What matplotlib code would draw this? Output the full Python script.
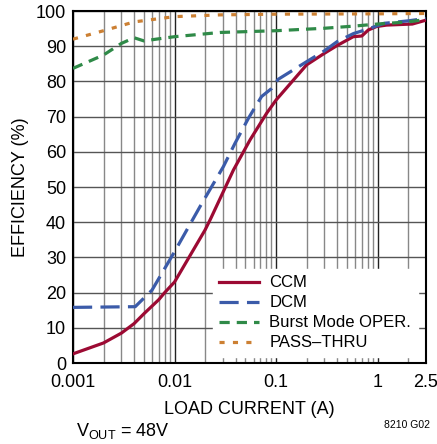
import matplotlib
matplotlib.use("Agg")
import matplotlib.pyplot as plt
from matplotlib.ticker import FixedLocator, NullFormatter

plt.rcParams['font.family'] = ['Liberation Sans Narrow', 'Liberation Sans', 'DejaVu Sans']

# efficiency curves
ccm_i = [0.001, 0.002, 0.003, 0.004, 0.005, 0.007, 0.008, 0.01, 0.02, 0.0227,
         0.038, 0.0555, 0.081, 0.1, 0.2, 0.3, 0.4, 0.576, 0.70, 0.81, 0.98,
         1.23, 2.2, 3.0]
ccm_eff = [2.6, 5.7, 8.5, 11.2, 14.0, 18.0, 20.0, 23.0, 37.8, 41.0,
           54.8, 63.4, 71.0, 74.7, 84.7, 88.0, 90.2, 92.7, 92.9, 94.6, 95.6,
           96.0, 96.3, 97.4]

dcm_i = [0.001, 0.0041, 0.006, 0.01, 0.0178, 0.0303, 0.0394, 0.0534, 0.072,
         0.0906, 0.105, 0.2, 0.3, 0.4, 0.58, 0.79, 1.16, 2.0, 3.0]
dcm_eff = [15.8, 16.0, 20.7, 31.6, 44.4, 55.8, 62.4, 69.5, 75.7,
           78.0, 80.6, 85.6, 88.7, 91.3, 93.6, 94.8, 96.5, 97.2, 97.9]

burst_i = [0.001, 0.002, 0.003, 0.004, 0.005, 0.0066, 0.01, 0.028, 0.1, 0.3,
           0.58, 1.0, 2.0, 3.0]
burst_eff = [83.7, 87.5, 90.8, 92.4, 91.5, 92.0, 92.7, 93.9, 94.4, 95.1,
             95.7, 96.3, 96.9, 97.6]

pass_i = [0.001, 0.002, 0.004, 0.01, 0.028, 0.1, 1.0, 3.0]
pass_eff = [92.0, 94.4, 96.9, 98.4, 98.9, 99.1, 99.2, 99.3]

x_ticks = [0.001, 0.01, 0.1, 1, 3]
x_tick_labels = ['0.001', '0.01', '0.1', '1', '2.5']
y_ticks = list(range(0, 101, 10))

fig = plt.figure(figsize=(4.37, 4.44), dpi=100)
ax = fig.add_axes([73 / 437, 1 - 363 / 444, (426 - 73) / 437, (363 - 11) / 444])

ax.set_xscale('log')
ax.set_xlim(0.001, 3)
ax.set_ylim(0, 100)

minor = [m * 10.0 ** e for e in (-3, -2, -1, 0) for m in range(2, 10) if m * 10.0 ** e < 3]
ax.xaxis.set_major_locator(FixedLocator(x_ticks))
ax.set_xticklabels(x_tick_labels)
ax.xaxis.set_minor_locator(FixedLocator(minor))
ax.xaxis.set_minor_formatter(NullFormatter())
ax.set_yticks(y_ticks)

ax.grid(which='major', axis='x', color='#222222', linewidth=1.0)
ax.grid(which='minor', axis='x', color='#888888', linewidth=1.0)
ax.grid(which='major', axis='y', color='#555555', linewidth=1.0)
ax.tick_params(which='both', length=0, labelsize=13)
ax.tick_params(axis='x', pad=8)
ax.tick_params(axis='y', pad=5)

for s in ax.spines.values():
    s.set_linewidth(1.5)

ax.plot(ccm_i, ccm_eff, color='#9c0a33', lw=2.3, label='CCM', zorder=5)
ax.plot(dcm_i, dcm_eff, color='#3b5ba9', lw=2.3, dashes=(6, 2.6), label='DCM', zorder=5)
ax.plot(burst_i, burst_eff, color='#2f8a48', lw=2.3, dashes=(3.2, 2.2), label='Burst Mode OPER.', zorder=5)
ax.plot(pass_i, pass_eff, color='#cc8033', lw=2.3, dashes=(1.6, 2.6), label='PASS\u2013THRU', zorder=5)

leg = ax.legend(loc='lower right', bbox_to_anchor=(0.977, 0.017), borderaxespad=0,
                fontsize=12, handlelength=2.4, frameon=True, fancybox=False,
                framealpha=1, facecolor='white', edgecolor='white',
                labelspacing=0.3, borderpad=0.4, handletextpad=0.6)
leg.set_zorder(10)

ax.set_ylabel('EFFICIENCY (%)', fontsize=13, labelpad=5)
ax.set_xlabel('LOAD CURRENT (A)', fontsize=13, labelpad=7)

fig.text(76 / 437, 1 - 431 / 444, r'V$_{\mathregular{OUT}}$ = 48V', fontsize=13, va='center')
fig.text(430 / 437, 1 - 425 / 444, '8210 G02', fontsize=7.5, ha='right', va='center')

fig.savefig('out.png', dpi=100)
